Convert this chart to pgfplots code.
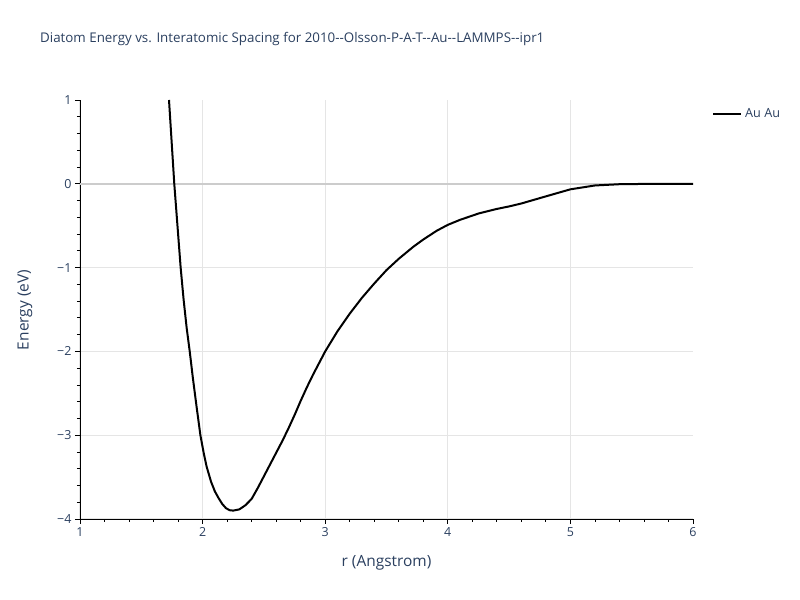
\documentclass[border=0pt]{standalone}
\usepackage{pgfplots}
\pgfplotsset{compat=1.18}
\usepackage{fontspec}
\setmainfont{Open Sans}
\definecolor{ptext}{HTML}{2A3F5F}
\definecolor{pgrid}{HTML}{E5E5E5}
\definecolor{pzero}{HTML}{CCCCCC}
\begin{document}
\begin{tikzpicture}[x=1bp,y=1bp]
\begin{axis}[
  scale only axis, width=613bp, height=419bp,
  xmin=1, xmax=6, ymin=-4, ymax=1,
  enlargelimits=false,
  axis lines*=left, axis line style={-, black, line width=0.8bp},
  xtick={1,2,3,4,5}, extra x ticks={6}, extra x tick labels={6},
  extra x tick style={grid=none},
  ytick={-4,-3,-2,-1,0}, yticklabels={−4,−3,−2,−1,0},
  extra y ticks={1}, extra y tick labels={1},
  extra y tick style={grid=none},
  minor xtick={1.2,1.4,1.6,1.8,2.2,2.4,2.6,2.8,3.2,3.4,3.6,3.8,4.2,4.4,4.6,4.8,5.2,5.4,5.6,5.8},
  minor ytick={-3.8,-3.6,-3.4,-3.2,-2.8,-2.6,-2.4,-2.2,-1.8,-1.6,-1.4,-1.2,-0.8,-0.6,-0.4,-0.2,0.2,0.4,0.6,0.8},
  tick align=outside,
  major tick length=5bp, minor tick length=3bp,
  every tick/.style={black, line width=0.8bp},
  grid=major, major grid style={pgrid, line width=1bp},
  xticklabels={1,2,3,4,5},
  /pgf/number format/assume math mode=true,
  tick label style={font=\fontsize{12.5}{14}\selectfont, text=ptext},
  xlabel={r (Angstrom)}, ylabel={Energy (eV)},
  label style={font=\fontsize{15.5}{18}\selectfont, text=ptext},
  xlabel style={at={(axis description cs:0.5,-0.105)}, anchor=center},
  ylabel style={at={(axis description cs:-0.0897,0.4988)}, anchor=center, rotate=0},
  title={Diatom Energy vs. Interatomic Spacing for 2010{-}{-}Olsson-P-A-T{-}{-}Au{-}{-}LAMMPS{-}{-}ipr1},
  title style={at={(axis description cs:-0.0653,1.131)}, anchor=west, inner sep=0pt, font=\fontsize{13.4}{15}\selectfont, text=ptext},
  legend style={at={(axis description cs:1.031,0.967)}, anchor=west, draw=none, fill=none,
    font=\fontsize{12.7}{15}\selectfont, text=ptext, inner sep=0pt,
    nodes={inner sep=3bp}},
  legend cell align=left,
  legend image code/.code={\draw[#1] (0bp,0bp) -- (28bp,0bp);},
  clip=true,
]
\coordinate (O) at (rel axis cs:0,0);
\addplot[pzero, line width=1.6bp, forget plot] coordinates {(1,0) (6,0)};
\addplot[black, line width=2bp, line join=round] coordinates {
(1.726,1.0)
(1.769,0.0)
(1.795,-0.5)
(1.821,-1.0)
(1.845,-1.38)
(1.87,-1.72)
(1.895,-2.0)
(1.92,-2.31)
(1.95,-2.65)
(1.982,-3.0)
(2.01,-3.22)
(2.033,-3.376)
(2.07,-3.56)
(2.10,-3.67)
(2.13,-3.75)
(2.16,-3.82)
(2.19,-3.87)
(2.22,-3.895)
(2.25,-3.90)
(2.30,-3.885)
(2.35,-3.835)
(2.40,-3.76)
(2.45,-3.63)
(2.50,-3.49)
(2.55,-3.35)
(2.60,-3.21)
(2.65,-3.07)
(2.70,-2.92)
(2.75,-2.76)
(2.80,-2.59)
(2.85,-2.43)
(2.90,-2.28)
(2.95,-2.14)
(3.0,-2.0)
(3.1,-1.76)
(3.2,-1.55)
(3.3,-1.36)
(3.4,-1.19)
(3.5,-1.03)
(3.6,-0.895)
(3.72,-0.75)
(3.8,-0.665)
(3.91,-0.56)
(4.0,-0.49)
(4.1,-0.43)
(4.25,-0.355)
(4.4,-0.30)
(4.5,-0.27)
(4.6,-0.235)
(4.8,-0.15)
(5.0,-0.066)
(5.2,-0.02)
(5.4,-0.005)
(5.7,0.0)
(6.0,0.0)
};
\addlegendentry{Au Au}
\end{axis}
\pgfresetboundingbox
\path[use as bounding box] ([shift={(-80,-81)}]O) rectangle ([shift={(720,519)}]O);
\end{tikzpicture}
\end{document}
